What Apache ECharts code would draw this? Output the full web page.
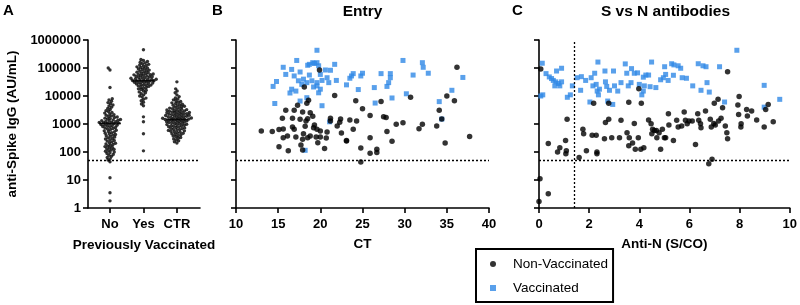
<!DOCTYPE html>
<html>
<head>
<meta charset="utf-8">
<script src="https://cdn.jsdelivr.net/npm/echarts@6/dist/echarts.min.js"></script>
<style>html,body{margin:0;padding:0;background:#fff}#c{width:800px;height:305px}</style>
</head>
<body>
<div id="c"></div>
<script>
// ---------- data ----------
const categories = ['No', 'Yes', 'CTR'];
const yTicks = [1, 10, 100, 1000, 10000, 100000, 1000000];
const cutoffIgG = 50;
const cutoffN = 1.4;
const medians = [1050, 35000, 1450];

const noVals = [1.8, 3.5, 12, 45, 52, 58, 64, 70, 76, 82, 88, 94, 100, 106, 112, 118, 125, 132, 140, 148, 156, 165, 175, 185, 195, 205, 215, 230, 245, 260, 275, 290, 305, 320, 340, 360, 380, 400, 420, 440, 465, 490, 515, 540, 570, 600, 630, 660, 690, 720, 750, 780, 810, 840, 870, 900, 930, 960, 990, 1020, 1050, 1080, 1110, 1140, 1170, 1200, 1240, 1280, 1320, 1360, 1400, 1450, 1500, 1560, 1620, 1700, 1780, 1860, 1950, 2050, 2150, 2300, 2450, 2600, 2800, 3000, 3300, 3600, 4000, 4400, 4800, 5300, 5800, 6500, 7200, 8000, 20000, 85000, 100000];
const yesVals = [110, 450, 1200, 1800, 4500, 5200, 6000, 6800, 7600, 8400, 9200, 10000, 11000, 12000, 13000, 14000, 15000, 16000, 17000, 18000, 19000, 20000, 21000, 22000, 23000, 24000, 24500, 25000, 26000, 27000, 28000, 29000, 29500, 30000, 31000, 32000, 33000, 34000, 34500, 35000, 36000, 37000, 38000, 39000, 39500, 40000, 41500, 43000, 44500, 45000, 46000, 47500, 49000, 51000, 52000, 53000, 55000, 57000, 58000, 59000, 61000, 63000, 65000, 68000, 71000, 74000, 77000, 80000, 84000, 88000, 92000, 96000, 100000, 105000, 110000, 116000, 122000, 128000, 135000, 142000, 150000, 160000, 170000, 185000, 200000, 450000];
const ctrVals = [210, 230, 250, 270, 290, 310, 330, 350, 370, 390, 410, 430, 450, 470, 490, 510, 530, 550, 570, 590, 610, 630, 650, 675, 700, 725, 750, 775, 800, 825, 850, 875, 900, 925, 950, 975, 1000, 1030, 1060, 1090, 1120, 1150, 1180, 1210, 1240, 1270, 1300, 1330, 1360, 1390, 1420, 1450, 1480, 1510, 1540, 1570, 1600, 1640, 1680, 1720, 1760, 1800, 1840, 1880, 1920, 1960, 2000, 2050, 2100, 2150, 2200, 2250, 2300, 2350, 2400, 2460, 2520, 2580, 2640, 2700, 2770, 2840, 2910, 2980, 3050, 3150, 3250, 3350, 3450, 3550, 3700, 3850, 4000, 4150, 4300, 4500, 4700, 4900, 5100, 5400, 5700, 6000, 6400, 6800, 7300, 7800, 8500, 9500, 11000, 13000, 15000, 18000, 32000];

// Panel B: [CT, anti-Spike IgG]
const entryVac = [[19.6,430000],[17.2,186000],[15.6,106000],[16.6,89000],[18.5,125000],[19.1,155000],[19.6,155000],[18.7,135000],[19.3,145000],[19.8,120000],[21.7,135000],[20.6,85000],[21.2,83000],[15.9,59000],[17.6,72000],[16.9,52000],[18.7,56000],[20.0,59000],[14.8,33000],[14.4,22000],[17.4,35000],[18.0,40000],[18.4,30000],[17.8,26000],[19.0,35000],[19.6,30000],[20.2,36000],[20.8,45000],[21.0,30000],[21.9,36000],[16.6,17500],[16.4,12800],[17.1,15000],[19.2,21000],[19.6,23000],[20.0,17500],[19.8,13000],[17.6,6600],[14.6,5400],[20.2,4500],[18.4,8700],[23.1,25000],[23.5,43000],[23.9,63000],[23.7,52000],[25.0,65000],[24.8,52000],[24.5,17000],[26.4,20000],[26.5,5600],[27.2,63000],[28.3,63000],[28.3,45000],[28.1,30000],[27.9,22000],[28.5,8500],[29.8,186000],[30.2,12000],[31.0,56000],[32.1,155000],[32.2,106000],[32.8,65000],[34.1,6300],[34.4,1500],[35.6,16000],[36.9,46000],[21.1,1200],[18.2,115]];
const entryNon = [[19.9,85000],[18.1,21000],[21.7,10500],[18.6,7000],[18.4,5500],[24.2,6800],[27.2,6300],[25.0,3500],[30.7,9000],[36.2,106000],[35.0,10000],[35.9,6800],[34.1,3100],[34.4,1500],[15.9,3100],[16.9,3100],[17.3,4700],[17.9,2700],[18.8,2500],[19.1,1900],[15.5,1600],[16.7,1600],[17.6,1470],[18.5,1550],[18.3,1280],[21.2,1600],[21.2,1280],[22.4,1500],[22.3,1150],[22.0,850],[23.5,1400],[24.3,1280],[23.9,650],[25.9,2000],[27.5,1800],[27.8,1700],[29.0,980],[29.8,1100],[32.1,980],[31.7,680],[33.8,850],[13.0,560],[14.3,535],[15.1,630],[15.6,660],[16.7,780],[16.9,650],[18.2,830],[19.2,740],[19.3,920],[19.6,650],[20.0,560],[20.8,515],[22.5,480],[18.0,450],[15.6,325],[16.1,370],[17.1,345],[17.9,285],[18.5,325],[18.8,370],[19.5,345],[20.0,345],[20.7,316],[23.1,260],[25.9,325],[27.9,535],[28.5,240],[37.7,360],[34.8,210],[15.1,155],[16.2,110],[17.7,178],[17.9,118],[19.7,215],[20.5,134],[24.8,138],[25.9,90],[26.7,125],[26.7,95],[24.8,44],[23.1,245]];

// Panel C: [Anti-N S/CO, anti-Spike IgG]
const snVac = [[0.13,148000],[0.28,63000],[0.41,48000],[0.50,42000],[0.57,36000],[0.67,32000],[0.70,78000],[0.90,98000],[0.77,28000],[0.83,23000],[0.90,32000],[0.63,23000],[0.07,10000],[0.15,11000],[1.13,9000],[1.25,11000],[1.33,23000],[1.52,45000],[1.69,49000],[1.66,16000],[1.86,36000],[2.08,45000],[2.15,23000],[2.22,65000],[2.28,26000],[2.32,15000],[2.37,11000],[2.41,17500],[2.35,163000],[2.63,78000],[2.65,32000],[2.70,22000],[2.81,16000],[2.97,78000],[3.01,23000],[3.14,15000],[2.03,6100],[2.74,6600],[2.94,5000],[3.27,30000],[3.44,140000],[3.50,65000],[3.56,23000],[3.67,30000],[3.69,95000],[3.80,65000],[3.93,67000],[4.00,26000],[4.16,47000],[4.10,11000],[4.16,15000],[4.20,23000],[4.26,56000],[4.37,56000],[4.43,21500],[4.49,163000],[4.66,20000],[4.85,38000],[4.96,45000],[5.01,111000],[5.05,59000],[5.15,36000],[5.29,142000],[5.36,55000],[5.38,129000],[5.55,120000],[5.65,98000],[5.71,45000],[5.88,43000],[6.13,23000],[6.35,142000],[6.46,16000],[6.54,120000],[6.66,111000],[6.70,30000],[6.79,13800],[7.20,111000],[7.40,6100],[7.89,430000],[8.98,24000],[8.98,4000],[9.60,7600]];
const snNon = [[0.07,92000],[1.12,1470],[0.37,200],[0.74,100],[0.83,142],[1.06,260],[1.09,110],[1.07,87],[1.60,63],[1.75,650],[1.78,450],[1.89,110],[2.12,400],[2.28,400],[2.31,100],[2.31,87],[2.18,5500],[2.78,5500],[2.65,1120],[2.78,1470],[2.61,300],[2.90,325],[3.21,325],[3.27,1350],[3.58,6000],[3.51,490],[3.60,325],[3.58,168],[3.73,210],[3.80,1050],[3.84,125],[3.96,325],[3.98,18000],[4.08,5500],[4.06,125],[4.18,142],[4.37,1400],[4.47,1020],[4.50,450],[4.53,650],[4.60,590],[4.68,590],[4.79,490],[4.70,325],[4.92,650],[5.00,325],[5.05,325],[4.85,125],[5.16,2300],[5.36,260],[5.18,920],[5.49,1350],[5.55,780],[5.69,850],[5.79,2700],[5.84,1350],[5.91,1020],[5.98,1280],[6.11,1280],[6.24,186],[6.33,2300],[6.37,1350],[6.44,1020],[6.46,740],[6.64,2900],[6.83,1470],[6.87,780],[6.97,1050],[6.99,5500],[7.14,7600],[7.03,920],[7.16,1280],[7.26,1600],[7.32,3800],[7.43,850],[7.49,490],[7.52,300],[7.52,74000],[7.93,4800],[7.98,9500],[7.96,2200],[8.05,780],[8.06,1020],[8.28,3300],[8.31,1950],[8.48,2900],[8.68,1400],[8.98,780],[9.04,3300],[9.14,5000],[9.34,1200],[6.77,38],[6.90,55],[0.04,11],[0.37,3.2],[0.0,1.7]];

// ---------- chart ----------
const FONT = 'Liberation Sans, Arial, Helvetica, sans-serif';
const BLUE = '#2f88e6';
const chart = echarts.init(document.getElementById('c'), null, {renderer: 'canvas'});

const axisLine = {show: true, lineStyle: {color: '#000', width: 1.6}};
const axisTick = {show: true, length: 5, lineStyle: {color: '#000', width: 1.6}};
const tickLabel = {color: '#000', fontFamily: FONT, fontWeight: 'bold', fontSize: 13};
const nameStyle = {color: '#000', fontFamily: FONT, fontWeight: 'bold', fontSize: 13.5};

function yAxisDef(i, showLabel) {
  return {
    type: 'log', logBase: 10, min: yTicks[0], max: yTicks[yTicks.length - 1], gridIndex: i,
    axisLine, axisTick, splitLine: {show: false},
    axisLabel: Object.assign({show: showLabel, margin: 7, formatter: v => String(Math.round(v))}, tickLabel),
    name: showLabel ? 'anti-Spike IgG (AU/mL)' : '', nameLocation: 'middle', nameGap: 69,
    nameTextStyle: nameStyle
  };
}
const dotted = {color: '#000', width: 1.3, type: [2, 2]};

const option = {
  animation: false,
  backgroundColor: '#fff',
  grid: [
    {left: 88, top: 40, width: 112, height: 168},
    {left: 236, top: 40, width: 253, height: 168},
    {left: 539, top: 40, width: 253, height: 168}
  ],
  xAxis: [
    {type: 'value', gridIndex: 0, min: 0.343, max: 3.69, axisLine, splitLine: {show: false},
     axisTick: Object.assign({customValues: [1, 2, 3]}, axisTick),
     axisLabel: Object.assign({customValues: [1, 2, 3], margin: 10, formatter: v => categories[Math.round(v) - 1] || ''}, tickLabel),
     name: 'Previously Vaccinated', nameLocation: 'middle', nameGap: 30, nameTextStyle: nameStyle},
    {type: 'value', gridIndex: 1, min: 10, max: 40, interval: 5, axisLine, axisTick, splitLine: {show: false},
     axisLabel: Object.assign({margin: 10}, tickLabel),
     name: 'CT', nameLocation: 'middle', nameGap: 29, nameTextStyle: nameStyle},
    {type: 'value', gridIndex: 2, min: 0, max: 10, interval: 2, axisLine, axisTick, splitLine: {show: false},
     axisLabel: Object.assign({margin: 10}, tickLabel),
     name: 'Anti-N (S/CO)', nameLocation: 'middle', nameGap: 29, nameTextStyle: nameStyle}
  ],
  yAxis: [yAxisDef(0, true), yAxisDef(1, false), yAxisDef(2, false)],
  legend: {
    data: ['Non-Vaccinated', 'Vaccinated'], orient: 'vertical', left: 476, top: 249,
    itemWidth: 6, itemHeight: 6, itemGap: 10, padding: [8, 5, 7, 14],
    borderColor: '#000', borderWidth: 2, selectedMode: false,
    textStyle: {color: '#000', fontFamily: FONT, fontSize: 13.5, padding: [0, 0, 0, 12]}
  },
  graphic: [
    {type: 'text', left: 3, top: 3, style: {text: 'A', font: 'bold 15px ' + FONT, fill: '#000'}},
    {type: 'text', left: 212, top: 3, style: {text: 'B', font: 'bold 15px ' + FONT, fill: '#000'}},
    {type: 'text', left: 512, top: 3, style: {text: 'C', font: 'bold 15px ' + FONT, fill: '#000'}},
    {type: 'text', x: 362.5, y: 12, style: {text: 'Entry', font: 'bold 15.5px ' + FONT, fill: '#000', align: 'center', verticalAlign: 'middle'}},
    {type: 'text', x: 665.5, y: 12, style: {text: 'S vs N antibodies', font: 'bold 15.5px ' + FONT, fill: '#000', align: 'center', verticalAlign: 'middle'}}
  ],
  series: []
};
chart.setOption(option);

// Beeswarm layout for panel A (offsets derived from the data's pixel positions)
function swarm(vals, cat, d) {
  const f = {xAxisIndex: 0, yAxisIndex: 0};
  const cx = chart.convertToPixel(f, [cat, 1])[0];
  const pts = vals.map(v => ({v, py: chart.convertToPixel(f, [cat, v])[1]}));
  pts.sort((a, b) => b.py - a.py);
  const placed = [];
  const out = [];
  for (const p of pts) {
    let best = 0;
    for (let k = 0; k < 400; k++) {
      const off = (k % 2 === 0 ? 1 : -1) * Math.ceil(k / 2) * 0.25;
      let ok = true;
      for (const q of placed) {
        const dx = q.x - off, dy = q.y - p.py;
        if (dx * dx + dy * dy < d * d) { ok = false; break; }
      }
      if (ok) { best = off; break; }
    }
    placed.push({x: best, y: p.py});
    out.push([chart.convertFromPixel(f, [cx + best, p.py])[0], p.v]);
  }
  return out;
}
const D = 2.6;
const swarmData = [].concat(swarm(noVals, 1, D), swarm(yesVals, 2, D), swarm(ctrVals, 3, D));
const medianData = medians.map((m, i) => [i + 1, m]);

chart.setOption({
  series: [
    {name: 'groups', type: 'scatter', xAxisIndex: 0, yAxisIndex: 0, data: swarmData,
     symbol: 'circle', symbolSize: 3.4, itemStyle: {color: '#000'}, silent: true,
     markLine: {silent: true, symbol: 'none', label: {show: false}, lineStyle: dotted, data: [{yAxis: cutoffIgG}]}},
    {name: 'median', type: 'scatter', xAxisIndex: 0, yAxisIndex: 0, data: medianData,
     symbol: 'rect', symbolSize: [22, 1.8], itemStyle: {color: '#000'}, silent: true},
    {name: 'Vaccinated', type: 'scatter', xAxisIndex: 1, yAxisIndex: 1, data: entryVac,
     symbol: 'rect', symbolSize: 5, itemStyle: {color: BLUE}},
    {name: 'Non-Vaccinated', type: 'scatter', xAxisIndex: 1, yAxisIndex: 1, data: entryNon,
     symbol: 'circle', symbolSize: 5.5, itemStyle: {color: '#000'},
     markLine: {silent: true, symbol: 'none', label: {show: false}, lineStyle: dotted, data: [{yAxis: cutoffIgG}]}},
    {name: 'Vaccinated', type: 'scatter', xAxisIndex: 2, yAxisIndex: 2, data: snVac,
     symbol: 'rect', symbolSize: 5, itemStyle: {color: BLUE}},
    {name: 'Non-Vaccinated', type: 'scatter', xAxisIndex: 2, yAxisIndex: 2, data: snNon,
     symbol: 'circle', symbolSize: 5.5, itemStyle: {color: '#000'},
     markLine: {silent: true, symbol: 'none', label: {show: false}, lineStyle: dotted, data: [{yAxis: cutoffIgG}, {xAxis: cutoffN}]}}
  ]
});
</script>
</body>
</html>
